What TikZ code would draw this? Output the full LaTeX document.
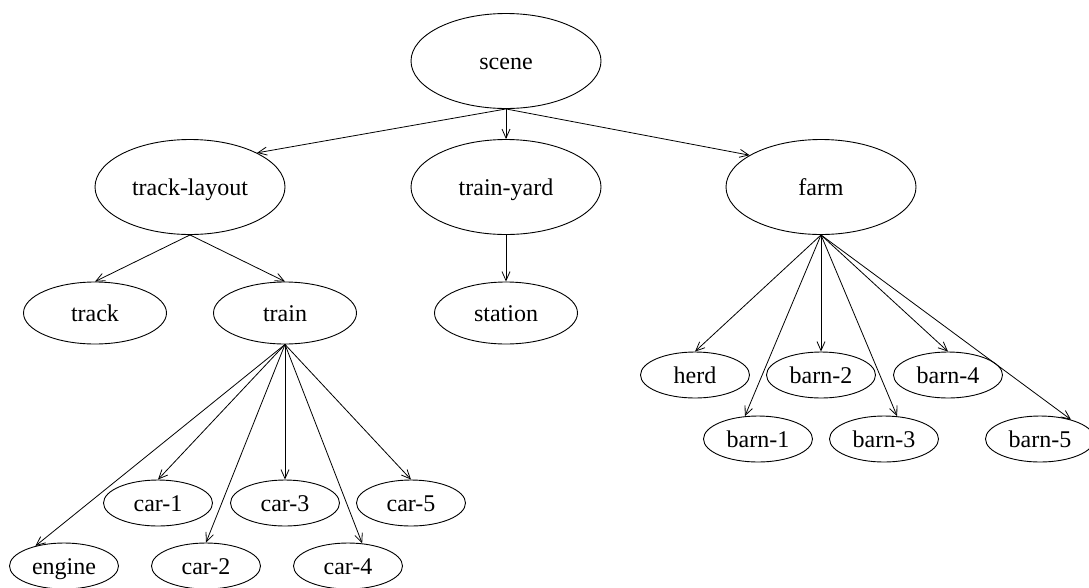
\documentclass[tikz,border=0pt]{standalone}
\usepackage{fontspec}
\setmainfont{Liberation Serif}
\usetikzlibrary{shapes.geometric,arrows.meta}
\begin{document}
\begin{tikzpicture}[x=1pt,y=-1pt,
  el/.style={ellipse,draw,line width=0.9pt,inner sep=0pt,font=\fontsize{24}{28}\selectfont,text height=16pt,text depth=0pt},
  big/.style={el,minimum width=190pt,minimum height=95pt},
  mid/.style={el,minimum width=143pt,minimum height=62pt},
  small/.style={el,minimum width=109pt,minimum height=46pt},
  arr/.style={-{Straight Barb[length=9pt,width=8pt]},line width=0.8pt}]
\useasboundingbox (0,0) rectangle (1089,587);
% top levels
\node[big] (scene) at (506,61) {scene};
\node[big] (tl) at (190,187) {track-layout};
\node[big] (ty) at (506,187) {train-yard};
\node[big] (farm) at (821,187) {farm};
\node[mid] (track) at (95,313) {track};
\node[mid] (train) at (285,313) {train};
\node[mid] (station) at (506,313) {station};
% farm children
\node[small] (herd) at (695,375) {herd};
\node[small] (barn2) at (821,375) {barn-2};
\node[small] (barn4) at (948,375) {barn-4};
\node[small] (barn1) at (758,439) {barn-1};
\node[small] (barn3) at (884,439) {barn-3};
\node[small] (barn5) at (1040,439) {barn-5};
% train children
\node[small] (car1) at (158,503) {car-1};
\node[small] (car3) at (285,503) {car-3};
\node[small] (car5) at (411,503) {car-5};
\node[small] (engine) at (64,566) {engine};
\node[small] (car2) at (206,566) {car-2};
\node[small] (car4) at (348,566) {car-4};
% edges
\draw[arr] (scene.south) -- (tl.27);
\draw[arr] (scene.south) -- (ty.north);
\draw[arr] (scene.south) -- (farm.156);
\draw[arr] (tl.south) -- (track.north);
\draw[arr] (tl.south) -- (train.north);
\draw[arr] (ty.south) -- (station.north);
\draw[arr] (train.south) -- (engine.145);
\draw[arr] (train.south) -- (car1.north);
\draw[arr] (train.south) -- (car2.north);
\draw[arr] (train.south) -- (car3.north);
\draw[arr] (train.south) -- (car4.58);
\draw[arr] (train.south) -- (car5.north);
\draw[arr] (farm.south) -- (herd.north);
\draw[arr] (farm.south) -- (barn1.120);
\draw[arr] (farm.south) -- (barn2.north);
\draw[arr] (farm.south) -- (barn3.60);
\draw[arr] (farm.south) -- (barn4.north);
\draw[arr] (farm.south) -- (barn5.32);
\end{tikzpicture}
\end{document}
